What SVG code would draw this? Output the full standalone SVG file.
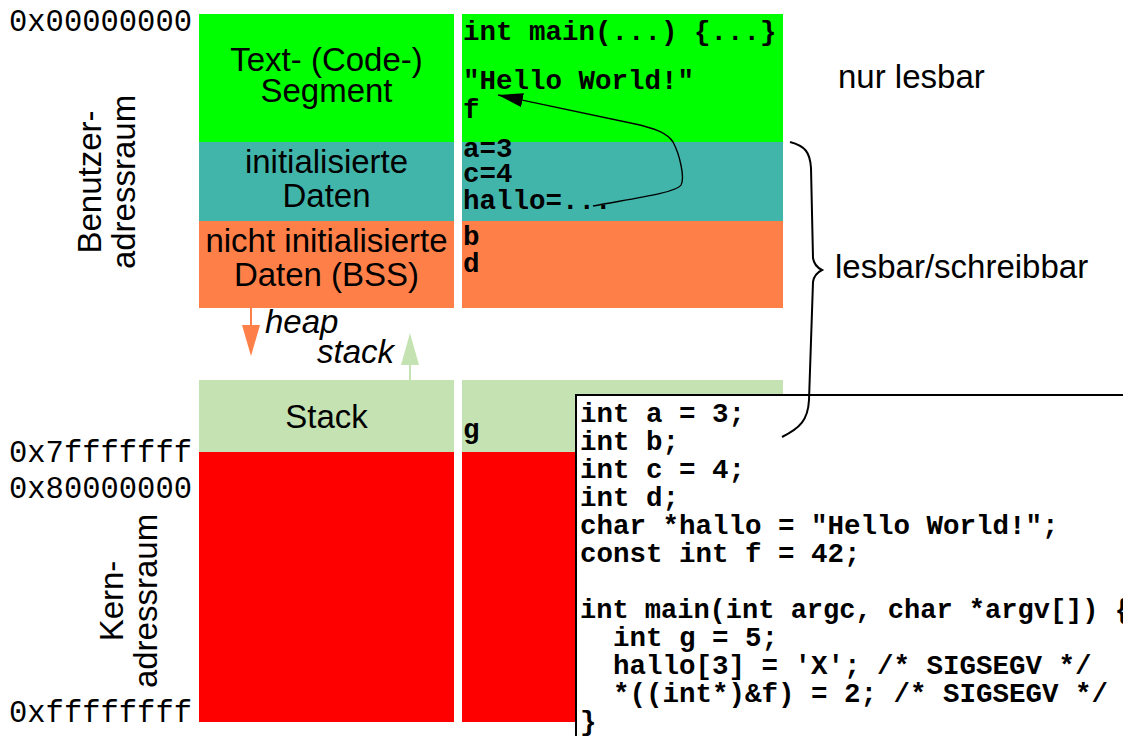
<svg xmlns="http://www.w3.org/2000/svg" width="1123" height="736" viewBox="0 0 1123 736">
<style>
.sans{font-family:"Liberation Sans",Arial,sans-serif;font-size:33px;fill:#000}
.it{font-style:italic}
.addr{font-family:"Liberation Mono","Courier New",monospace;font-size:30.5px;fill:#000}
.mono{font-family:"Liberation Mono","Courier New",monospace;font-weight:bold;font-size:27.5px;fill:#000}
.code{font-family:"Liberation Mono","Courier New",monospace;font-weight:bold;font-size:27.5px;fill:#000;white-space:pre}
.green{fill:#00ff00}.teal{fill:#42b5aa}.orange{fill:#ff7f48}.lgreen{fill:#c5e3b2}.red{fill:#ff0000}
</style>
<defs>
<marker id="ah" markerUnits="userSpaceOnUse" markerWidth="26" markerHeight="16" refX="25" refY="7" orient="auto">
<path d="M0,0 L25,7 L0,14 z" fill="#000"/>
</marker>
</defs>
<rect width="1123" height="736" fill="#fff"/>

<g id="addresses">
<text class="addr" x="9" y="31">0x00000000</text>
<text class="addr" x="9" y="462">0x7fffffff</text>
<text class="addr" x="9" y="498">0x80000000</text>
<text class="addr" x="9" y="722">0xffffffff</text>
</g>

<g id="benutzer">
<text class="sans" text-anchor="middle" transform="translate(101,182) rotate(-90)">Benutzer-</text>
<text class="sans" text-anchor="middle" transform="translate(135,182) rotate(-90)">adressraum</text>
</g>
<g id="kern">
<text class="sans" text-anchor="middle" transform="translate(123,601) rotate(-90)">Kern-</text>
<text class="sans" text-anchor="middle" transform="translate(157,601) rotate(-90)">adressraum</text>
</g>

<g id="text-segment">
<rect class="green" x="199" y="14" width="255" height="128"/>
<rect class="green" x="462" y="14" width="321" height="128"/>
<text class="sans" x="326.5" y="71" text-anchor="middle">Text- (Code-)</text>
<text class="sans" x="326.5" y="102" text-anchor="middle">Segment</text>
<text class="mono" x="463" y="40">int main(...) {...}</text>
<text class="mono" x="463" y="89">"Hello World!"</text>
<text class="mono" x="463" y="118">f</text>
</g>

<g id="init-data">
<rect class="teal" x="199" y="142" width="255" height="79"/>
<rect class="teal" x="462" y="142" width="321" height="79"/>
<text class="sans" x="326.5" y="173" text-anchor="middle">initialisierte</text>
<text class="sans" x="326.5" y="207" text-anchor="middle">Daten</text>
<text class="mono" x="463" y="157">a=3</text>
<text class="mono" x="463" y="182">c=4</text>
<text class="mono" x="463" y="209">hallo=...</text>
</g>

<g id="bss">
<rect class="orange" x="199" y="221" width="255" height="87"/>
<rect class="orange" x="462" y="221" width="321" height="87"/>
<text class="sans" x="326.5" y="252" text-anchor="middle">nicht initialisierte</text>
<text class="sans" x="326.5" y="286" text-anchor="middle">Daten (BSS)</text>
<text class="mono" x="463" y="245">b</text>
<text class="mono" x="463" y="272">d</text>
</g>

<g id="heap">
<line x1="251" y1="308" x2="251" y2="326" stroke="#ff7f48" stroke-width="2"/>
<path d="M242,325 L260,325 L251,356 z" fill="#ff7f48"/>
<text class="sans it" x="265" y="333">heap</text>
</g>

<g id="stack-growth">
<line x1="410" y1="380" x2="410" y2="364" stroke="#c5e3b2" stroke-width="2"/>
<path d="M401,365 L419,365 L410,333 z" fill="#c5e3b2"/>
<text class="sans it" x="317" y="363">stack</text>
</g>

<g id="stack">
<rect class="lgreen" x="199" y="380" width="255" height="72"/>
<rect class="lgreen" x="462" y="380" width="321" height="72"/>
<text class="sans" x="326.5" y="428" text-anchor="middle">Stack</text>
<text class="mono" x="463" y="438">g</text>
</g>

<g id="kernel">
<rect class="red" x="199" y="452" width="255" height="270"/>
<rect class="red" x="462" y="452" width="321" height="270"/>
</g>

<g id="labels">
<text class="sans" x="838" y="88">nur lesbar</text>
<text class="sans" x="835" y="278">lesbar/schreibbar</text>
</g>

<g id="code-box">
<rect x="576" y="395" width="560" height="360" fill="#fff" stroke="#000" stroke-width="2"/>
<text class="code" x="580" y="422">int a = 3;</text>
<text class="code" x="580" y="450">int b;</text>
<text class="code" x="580" y="478">int c = 4;</text>
<text class="code" x="580" y="506">int d;</text>
<text class="code" x="580" y="534">char *hallo = "Hello World!";</text>
<text class="code" x="580" y="562">const int f = 42;</text>
<text class="code" x="580" y="618" style="font-size:27px">int main(int argc, char *argv[]) {</text>
<text class="code" x="580" y="646">  int g = 5;</text>
<text class="code" x="580" y="674">  hallo[3] = 'X'; /* SIGSEGV */</text>
<text class="code" x="580" y="702">  *((int*)&amp;f) = 2; /* SIGSEGV */</text>
<text class="code" x="580" y="730">}</text>
</g>

<g id="connectors" fill="none" stroke="#000">
<path d="M593,206 C630,199 676,193 681,185 C685,178 680,155 673,142 C666,131 650,128 640,125 L498,95" stroke-width="1.4" marker-end="url(#ah)"/>
<path d="M790,142 C805,146 810,152 811,168 L813,258 C814,265 818,268 822,270 C818,272 814,275 813,282 L809,400 C808,420 800,428 782,437" stroke-width="2"/>
</g>
</svg>
